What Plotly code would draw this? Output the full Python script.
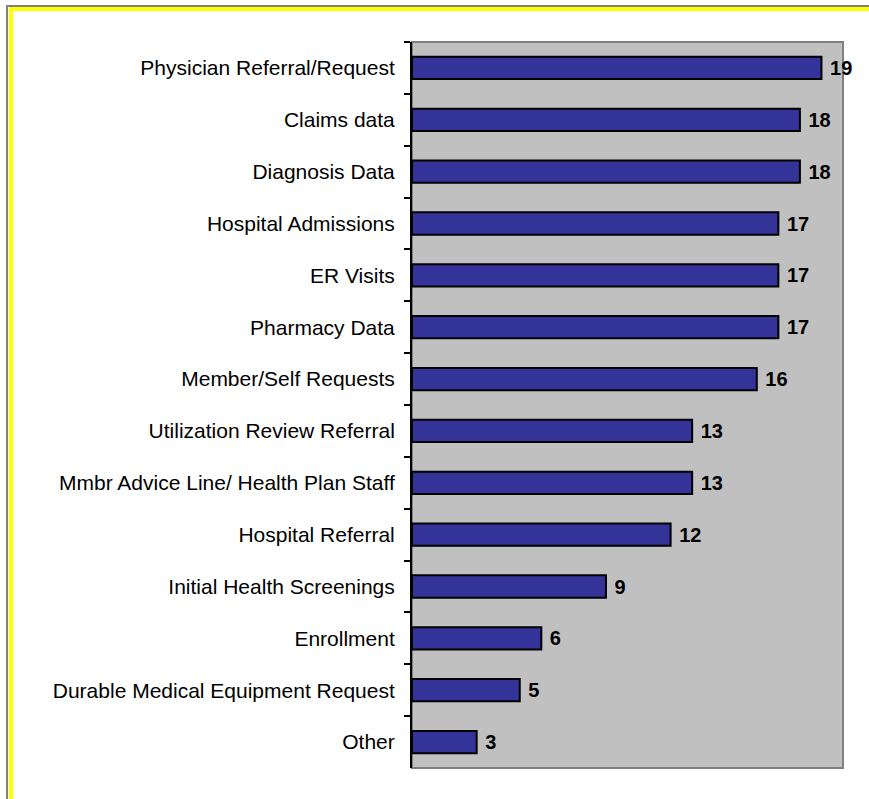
import plotly.graph_objects as go

# Sources used to identify members for the program (number of respondents)
categories = [
    "Physician Referral/Request",
    "Claims data",
    "Diagnosis Data",
    "Hospital Admissions",
    "ER Visits",
    "Pharmacy Data",
    "Member/Self Requests",
    "Utilization Review Referral",
    "Mmbr Advice Line/ Health Plan Staff",
    "Hospital Referral",
    "Initial Health Screenings",
    "Enrollment",
    "Durable Medical Equipment Request",
    "Other",
]
counts = [19, 18, 18, 17, 17, 17, 16, 13, 13, 12, 9, 6, 5, 3]

W, H = 869, 799
ML, MR, MT, MB = 412, 26, 42, 31
PW, PH = W - ML - MR, H - MT - MB


def px_x(px):
    return (px - ML) / PW


def px_y(py):
    return 1 - (py - MT) / PH


fig = go.Figure(
    go.Bar(
        x=counts,
        y=categories,
        orientation="h",
        width=0.43,
        marker=dict(color="#333399", line=dict(color="black", width=2)),
        text=counts,
        texttemplate=" %{x}",
        textposition="outside",
        constraintext="none",
        textfont=dict(family="Liberation Sans, Arial", size=20, color="black", weight="bold"),
        cliponaxis=False,
        hoverinfo="skip",
    )
)

fig.update_yaxes(
    autorange="reversed",
    showline=True,
    linecolor="black",
    linewidth=2,
    ticks="outside",
    tickson="boundaries",
    ticklen=6,
    tickwidth=2,
    tickcolor="black",
    tickfont=dict(family="Liberation Sans, Arial", size=21, color="black"),
    ticklabelstandoff=11,
    showgrid=False,
)
fig.update_xaxes(
    range=[0, 20],
    visible=False,
    showgrid=False,
    zeroline=False,
)

shapes = [
    # grey border around the plotting area
    dict(type="rect", xref="paper", yref="paper", x0=0, x1=1, y0=0, y1=1,
         line=dict(color="#808080", width=2), layer="below"),
    # outer grey frame
    dict(type="rect", xref="paper", yref="paper",
         x0=px_x(7), x1=px_x(W + 20), y0=px_y(H + 20), y1=px_y(6),
         line=dict(color="#808080", width=2)),
    # yellow frame
    dict(type="rect", xref="paper", yref="paper",
         x0=px_x(11), x1=px_x(W + 20), y0=px_y(H + 20), y1=px_y(9),
         line=dict(color="#FFFF00", width=4)),
]

fig.update_layout(
    width=W,
    height=H,
    margin=dict(l=ML, r=MR, t=MT, b=MB, autoexpand=False),
    plot_bgcolor="#C0C0C0",
    paper_bgcolor="white",
    showlegend=False,
    bargap=0.57,
    shapes=shapes,
)

fig.write_html("out.html")
